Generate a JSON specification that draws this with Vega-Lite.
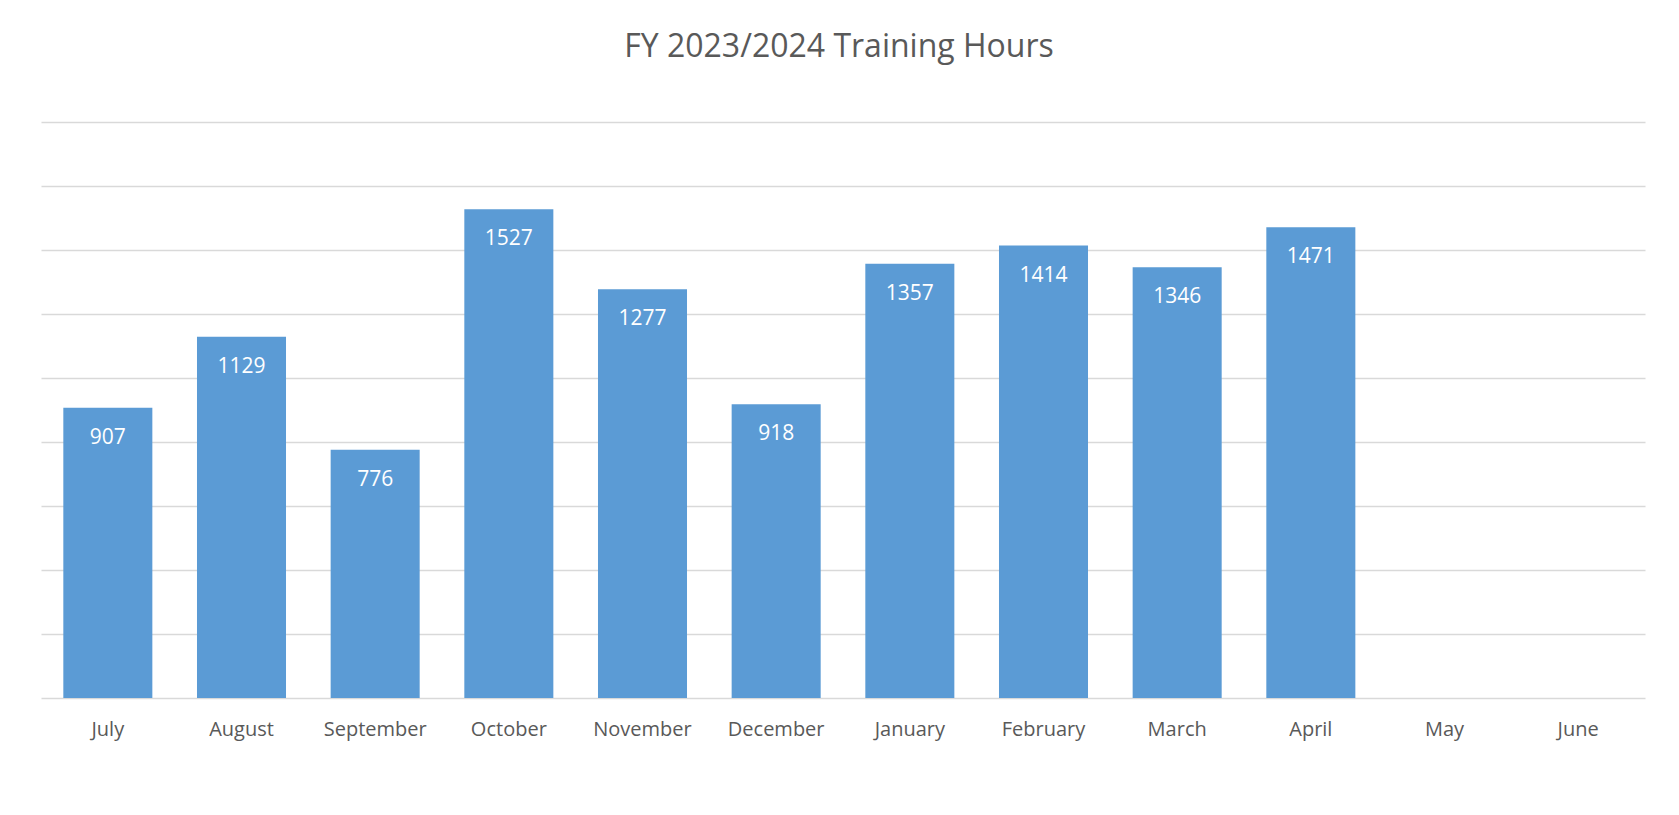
{
  "$schema": "https://vega.github.io/schema/vega-lite/v6.json",
  "autosize": "none",
  "width": 1604,
  "height": 576,
  "padding": {"left": 41, "top": 122, "right": 34, "bottom": 117},
  "background": "white",
  "title": {
    "text": "FY 2023/2024 Training Hours",
    "font": "Open Sans",
    "fontSize": 32,
    "fontWeight": "normal",
    "color": "#595959",
    "anchor": "middle",
    "frame": "group",
    "baseline": "alphabetic",
    "offset": 33,
    "dx": -4
  },
  "data": {
    "values": [
      {"month": "July", "hours": 907},
      {"month": "August", "hours": 1129},
      {"month": "September", "hours": 776},
      {"month": "October", "hours": 1527},
      {"month": "November", "hours": 1277},
      {"month": "December", "hours": 918},
      {"month": "January", "hours": 1357},
      {"month": "February", "hours": 1414},
      {"month": "March", "hours": 1346},
      {"month": "April", "hours": 1471},
      {"month": "May", "hours": null},
      {"month": "June", "hours": null}
    ]
  },
  "encoding": {
    "x": {
      "field": "month",
      "type": "nominal",
      "sort": null,
      "scale": {
        "domain": ["July", "August", "September", "October", "November", "December", "January", "February", "March", "April", "May", "June"],
        "paddingInner": 0.334,
        "paddingOuter": 0.167
      },
      "axis": {
        "title": null,
        "labelAngle": 0,
        "labelFont": "Open Sans",
        "labelFontSize": 20,
        "labelColor": "#595959",
        "labelPadding": 21,
        "ticks": false,
        "domain": false,
        "grid": false
      }
    },
    "y": {
      "field": "hours",
      "type": "quantitative",
      "scale": {"domain": [0, 1800], "nice": false},
      "axis": {
        "title": null,
        "labels": false,
        "ticks": false,
        "domain": false,
        "values": [0, 200, 400, 600, 800, 1000, 1200, 1400, 1600, 1800],
        "grid": true,
        "gridColor": "#D9D9D9",
        "gridWidth": 1.4
      }
    }
  },
  "layer": [
    {"mark": {"type": "bar", "color": "#5B9BD5"}},
    {
      "mark": {"type": "text", "color": "white", "font": "Open Sans", "fontSize": 21, "baseline": "middle", "dy": 30},
      "encoding": {"text": {"field": "hours", "type": "quantitative"}}
    }
  ],
  "config": {"view": {"stroke": null}}
}
